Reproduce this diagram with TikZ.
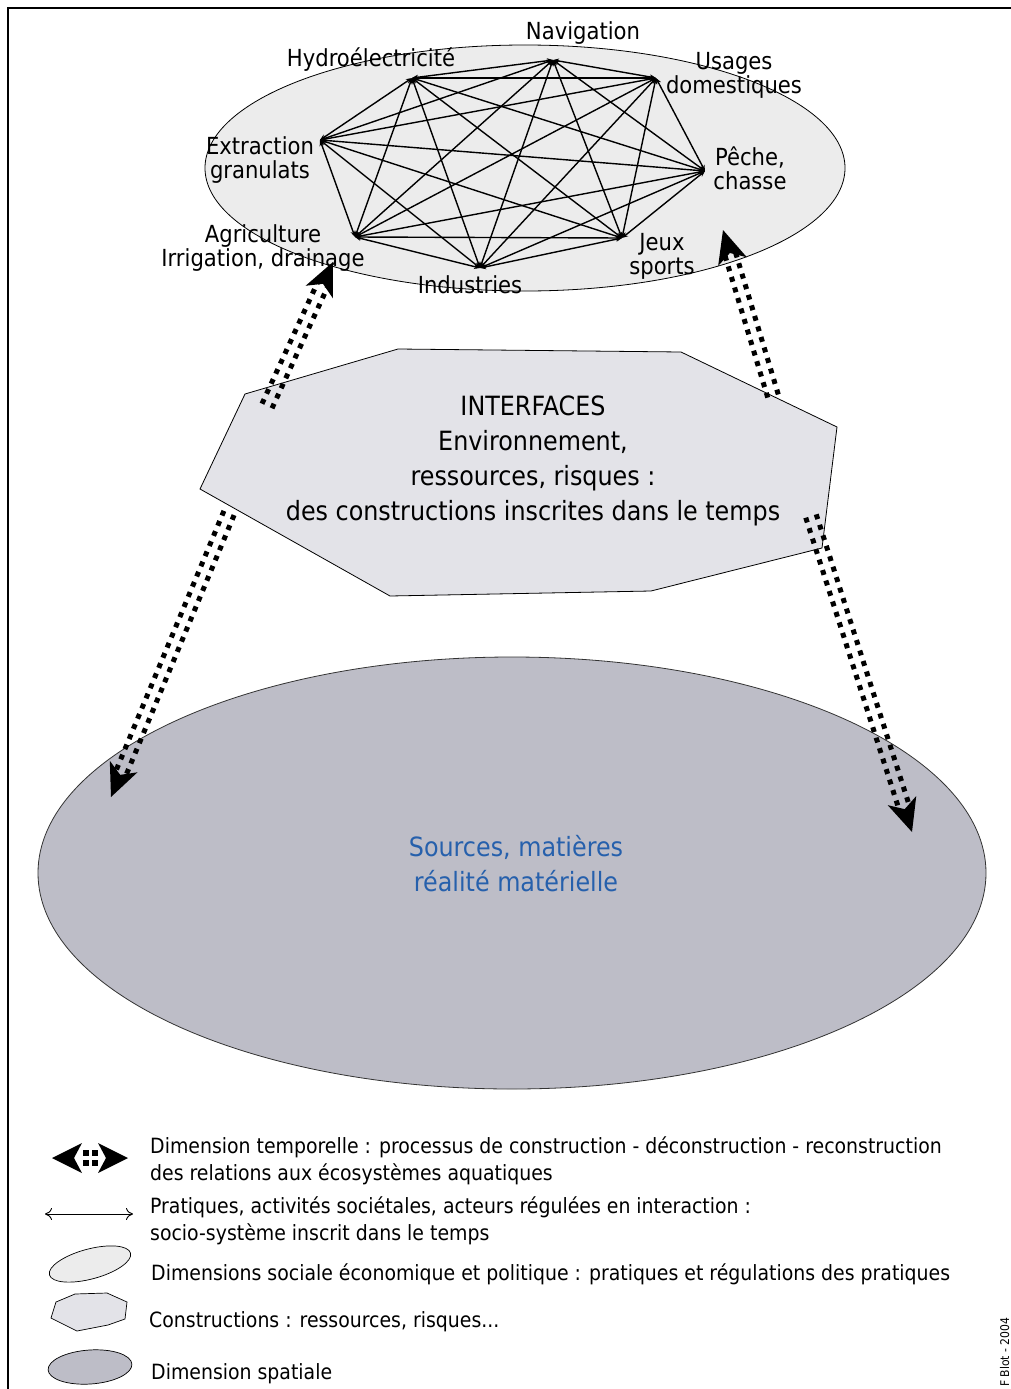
\documentclass[tikz,border=0pt]{standalone}
\usepackage{fontspec}
\setmainfont{DejaVu Sans Condensed}
\usetikzlibrary{arrows.meta,calc}
\definecolor{ellA}{RGB}{236,236,236}
\definecolor{octA}{RGB}{227,227,232}
\definecolor{ellB}{RGB}{189,189,199}
\definecolor{blueT}{RGB}{38,96,172}
\newcommand\dotarrow[2]{%
  \coordinate (dE) at ($(#2)!24pt!(#1)$);
  \coordinate (dB) at ($(#2)!33pt!(#1)$);
  \coordinate (dN) at ($(#2)!24pt!(#1)$);
  \fill ($(dB)!15pt!90:(#2)$) -- (#2) -- ($(dB)!15pt!-90:(#2)$) -- (dN) -- cycle;
  \draw[dotrow] ($(#1)!5.5pt!90:(#2)$) -- ($(dE)!5.5pt!-90:(#1)$);
  \draw[dotrow] ($(#1)!5.5pt!-90:(#2)$) -- ($(dE)!5.5pt!90:(#1)$);
}
\begin{document}
\begin{tikzpicture}[x=1pt,y=-1pt,
  dotrow/.style={line width=5pt, dash pattern=on 5pt off 6pt},
  edge/.style={line width=1.4pt, {Stealth[length=6pt,width=5pt]}-{Stealth[length=6pt,width=5pt]}},
  lab/.style={font=\fontsize{23.5}{24}\selectfont, align=center, inner sep=0pt},
  big/.style={font=\fontsize{26.5}{35}\selectfont, align=center, inner sep=0pt},
  leg/.style={font=\fontsize{21}{27}\selectfont, align=left, anchor=west, inner sep=0pt}]
\useasboundingbox (0,0) rectangle (1010,1389);
\fill[white] (0,0) rectangle (1010,1389);
\draw[line width=2.5pt] (1012,8) -- (8,8) -- (8,1392);

% top ellipse with graph
\draw[fill=ellA, line width=0.8pt] (525,168) ellipse [x radius=320, y radius=123];
\coordinate (nav) at (553,60);
\coordinate (hyd) at (412,78);
\coordinate (usa) at (656,78);
\coordinate (ext) at (320,140);
\coordinate (pec) at (705,171);
\coordinate (agr) at (355,237);
\coordinate (jeu) at (622,238);
\coordinate (ind) at (480,268);
\foreach \a/\b in {nav/hyd,nav/usa,nav/ext,nav/pec,nav/agr,nav/jeu,nav/ind,
  hyd/usa,hyd/ext,hyd/pec,hyd/agr,hyd/jeu,hyd/ind,
  usa/ext,usa/pec,usa/agr,usa/jeu,usa/ind,
  ext/pec,ext/agr,ext/jeu,ext/ind,
  pec/agr,pec/jeu,pec/ind,
  agr/jeu,agr/ind,
  jeu/ind}
  \draw[edge] (\a) -- (\b);
\node[lab] (lnav) at (583,33) {Navigation};
\node[lab] (lhyd) at (371,60) {Hydroélectricité};
\node[lab] (lusa) at (734,75) {Usages\\domestiques};
\node[lab] (lext) at (260,160) {Extraction\\granulats};
\node[lab] (lpec) at (750,168) {Pêche,\\chasse};
\node[lab] (lagr) at (263,248) {Agriculture\\Irrigation, drainage};
\node[lab] (ljeu) at (662,256) {Jeux\\sports};
\node[lab] (lind) at (470,285) {Industries};

% octagon
\draw[fill=octA, line width=0.8pt] (398,349) -- (681,352) -- (837,427) -- (822,548)
  -- (651,591) -- (390,596) -- (200,489) -- (245,394) -- cycle;
\node[big] (interfaces) at (533,461) {INTERFACES\\Environnement,\\ressources, risques :\\des constructions inscrites dans le temps};

% bottom ellipse
\draw[fill=ellB, line width=0.8pt, draw=black!80] (512,873) ellipse [x radius=474, y radius=216];
\node[big, text=blueT] (sources) at (516,864) {Sources, matières\\réalité matérielle};

% dotted arrows
\coordinate (a1t) at (267,406); \coordinate (a1h) at (333,262);
\coordinate (a2t) at (773,396); \coordinate (a2h) at (723,230);
\coordinate (a3t) at (229,513); \coordinate (a3h) at (111,797);
\coordinate (a4t) at (811,516); \coordinate (a4h) at (912,832);
\dotarrow{a1t}{a1h}
\dotarrow{a2t}{a2h}
\dotarrow{a3t}{a3h}
\dotarrow{a4t}{a4h}

% legend
\fill (52,1158) -- (82,1143) -- (74,1158) -- (82,1173) -- cycle;
\fill (128,1158) -- (98,1143) -- (106,1158) -- (98,1173) -- cycle;
\foreach \px in {85.5,95} \foreach \py in {1153,1163} \fill (\px-3,\py-3) rectangle (\px+3,\py+3);
\node[leg] (t1) at (150,1161) {Dimension temporelle : processus de construction - déconstruction - reconstruction\\des relations aux écosystèmes aquatiques};
\coordinate (l2a) at (45,1214); \coordinate (l2b) at (133,1214);
\draw[line width=0.9pt, {To[length=7pt,width=12pt]}-{To[length=7pt,width=12pt]}] (l2a) -- (l2b);
\node[leg] (t2) at (150,1220.5) {Pratiques, activités sociétales, acteurs régulées en interaction :\\socio-système inscrit dans le temps};
\draw[fill=ellA, line width=0.7pt] (90,1264) ellipse [x radius=42, y radius=15, rotate=15];
\node[leg] (t3) at (151,1274) {Dimensions sociale économique et politique : pratiques et régulations des pratiques};
\draw[fill=octA, line width=0.7pt] (51,1318) -- (56,1302) -- (75,1294) -- (107,1293) -- (127,1302)
  -- (125,1319) -- (108,1325) -- (77,1331) -- cycle;
\node[leg] (t4) at (149,1322) {Constructions : ressources, risques...};
\draw[fill=ellB, line width=0.7pt] (90,1367) ellipse [x radius=42, y radius=17, rotate=4];
\node[leg] (t5) at (151,1374) {Dimension spatiale};
\node[rotate=90, anchor=base west, inner sep=0pt, font=\fontsize{12}{14}\selectfont] (auth) at (1009,1387) {F Blot - 2004};
\end{tikzpicture}
\end{document}
